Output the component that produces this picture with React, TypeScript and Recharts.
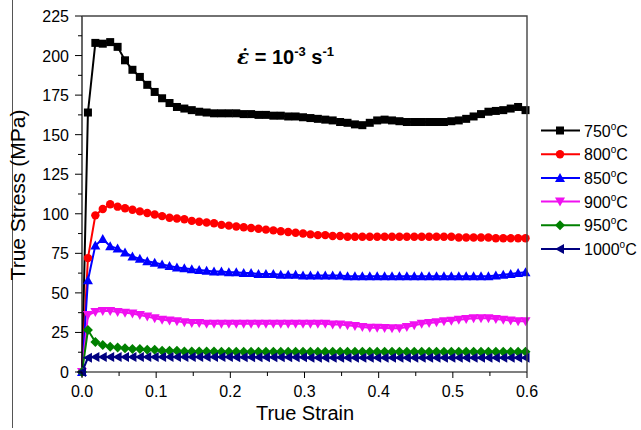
import { LineChart, Line, XAxis, YAxis } from 'recharts';

// true strain (x) for every recorded point
const strain = [
  0, 0.008, 0.018, 0.028, 0.038, 0.048, 0.058, 0.068, 0.078, 0.088, 0.098,
  0.108, 0.118, 0.128, 0.138, 0.148, 0.158, 0.168, 0.178, 0.188, 0.198,
  0.208, 0.218, 0.228, 0.238, 0.248, 0.258, 0.268, 0.278, 0.288, 0.298,
  0.308, 0.318, 0.328, 0.338, 0.348, 0.358, 0.368, 0.378, 0.388, 0.398,
  0.408, 0.418, 0.428, 0.438, 0.448, 0.458, 0.468, 0.478, 0.488, 0.498,
  0.508, 0.518, 0.528, 0.538, 0.548, 0.558, 0.568, 0.578, 0.588, 0.598,
];

// true stress (MPa) per temperature
const stress750 = [
  0, 164, 208, 207.5, 208.5, 205.5, 197, 191, 186.5, 181.5, 177,
  173, 170, 167.5, 166.5, 165.5, 164.5, 164, 163.5, 163.5, 163.5,
  163.5, 163, 163, 162.5, 162.5, 162, 162, 161.5, 161.5, 161,
  160.5, 160, 159.5, 159, 158, 157.5, 156.5, 156, 157.5, 159,
  159.5, 159, 158.5, 158, 158, 158, 158, 158, 158, 158.5,
  159, 160, 161.5, 163, 164.5, 165, 165.5, 166.5, 167.5, 165.5,
];

const stress800 = [
  0, 72, 99, 103, 106, 104.5, 103.5, 102.5, 101.5, 100.5, 99.5,
  98.5, 97.5, 97, 96.5, 95.5, 95, 94.5, 94, 93, 92.5,
  92, 91.5, 91, 90.5, 90, 89.5, 89, 88.5, 88, 87.5,
  87, 86.5, 86.5, 86, 86, 85.5, 85.5, 85.5, 85.5, 85.5,
  85.5, 85.5, 85.5, 85.5, 85.5, 85.5, 85.5, 85.5, 85.5, 85.5,
  85, 85, 85, 85, 85, 84.5, 84.5, 84.5, 84.5, 84.5,
];

const stress850 = [
  0, 58, 80, 84, 79.5, 78, 75.5, 73, 71.5, 70, 69,
  68, 67, 66, 65.5, 65, 64.5, 64, 63.5, 63.5, 63,
  63, 62.5, 62.5, 62, 62, 62, 61.5, 61.5, 61.5, 61,
  61, 61, 61, 61, 61, 60.5, 60.5, 60.5, 60.5, 60.5,
  60.5, 60.5, 60.5, 60.5, 60.5, 60.5, 60.5, 60.5, 60.5, 60.5,
  60.5, 60.5, 60.5, 60.5, 60.5, 61, 61.5, 62, 62.5, 63,
];

const stress900 = [
  0, 36, 38, 38.5, 38.5, 38, 37.5, 37, 36, 35, 34,
  33, 32.5, 32, 31.5, 31, 31, 30.5, 30.5, 30.5, 30.5,
  30.5, 30.5, 30.5, 30.5, 30.5, 30.5, 30.5, 30.5, 30.5, 30.5,
  30.5, 30.5, 30.5, 30, 30, 29.5, 29, 28.5, 28, 28,
  27.8, 27.6, 27.6, 28.5, 29.5, 30.5, 31, 31.5, 32, 32.4,
  33, 33.5, 34, 34, 34, 33.5, 33, 32.5, 32, 32,
];

const stress950 = [
  0, 26.5, 19, 17, 16, 15.5, 15, 14.5, 14.5, 14, 14,
  13.5, 13.5, 13.5, 13, 13, 13, 13, 13, 12.8, 12.8,
  12.8, 12.8, 12.8, 12.8, 12.8, 12.8, 12.8, 12.8, 12.8, 12.8,
  12.8, 12.8, 12.8, 12.8, 12.8, 12.8, 12.8, 12.8, 12.8, 12.8,
  12.8, 12.8, 12.8, 12.8, 12.8, 12.8, 12.8, 12.8, 12.8, 12.8,
  12.8, 12.8, 12.8, 12.8, 12.8, 12.8, 12.8, 12.8, 12.8, 12.8,
];

const stress1000 = [
  0, 9, 9.5, 9.5, 9.5, 9.5, 9.5, 9.5, 9.5, 9.5, 9.5,
  9.5, 9.5, 9.5, 9.5, 9.5, 9.5, 9.5, 9.5, 9.5, 9.5,
  9.3, 9.3, 9.3, 9.3, 9.3, 9.3, 9.3, 9.3, 9.3, 9.3,
  9, 9, 9, 9, 9, 9, 9, 9, 9, 9,
  9, 9, 9, 9, 9, 9, 9, 9, 9, 9,
  9, 9, 9, 9, 9, 9, 9, 9, 9, 9,
];

const xTicks = [0, 0.05, 0.1, 0.15, 0.2, 0.25, 0.3, 0.35, 0.4, 0.45, 0.5, 0.55, 0.6];
const yTicks = [0, 12.5, 25, 37.5, 50, 62.5, 75, 87.5, 100, 112.5, 125, 137.5, 150, 162.5, 175, 187.5, 200, 212.5, 225];

type Shape = 'square' | 'circle' | 'up' | 'down' | 'diamond' | 'left';

const series: { key: string; label: string; color: string; shape: Shape; values: number[] }[] = [
  { key: 't750', label: '750', color: '#000000', shape: 'square', values: stress750 },
  { key: 't800', label: '800', color: '#ff0000', shape: 'circle', values: stress800 },
  { key: 't850', label: '850', color: '#0000ff', shape: 'up', values: stress850 },
  { key: 't900', label: '900', color: '#f010f0', shape: 'down', values: stress900 },
  { key: 't950', label: '950', color: '#008000', shape: 'diamond', values: stress950 },
  { key: 't1000', label: '1000', color: '#000080', shape: 'left', values: stress1000 },
];

const data = strain.map((s, i) => {
  const row: Record<string, number> = { strain: s };
  series.forEach((sr) => {
    row[sr.key] = sr.values[i];
  });
  return row;
});

const FONT = '"Liberation Sans", Arial, sans-serif';

// plot box (same numbers as the chart margins / axis sizes)
const PLOT = { left: 82, top: 16, right: 527, bottom: 372 };

const Marker = ({ shape, color, cx, cy }: { shape: Shape; color: string; cx: number; cy: number }) => {
  switch (shape) {
    case 'square':
      return <rect x={cx - 4} y={cy - 4} width={8} height={8} fill={color} />;
    case 'circle':
      return <circle cx={cx} cy={cy} r={4.2} fill={color} />;
    case 'up':
      return <polygon points={`${cx},${cy - 5} ${cx + 5},${cy + 4} ${cx - 5},${cy + 4}`} fill={color} />;
    case 'down':
      return <polygon points={`${cx},${cy + 5} ${cx + 5},${cy - 4} ${cx - 5},${cy - 4}`} fill={color} />;
    case 'diamond':
      return <polygon points={`${cx},${cy - 5} ${cx + 5},${cy} ${cx},${cy + 5} ${cx - 5},${cy}`} fill={color} />;
    default:
      return <polygon points={`${cx - 5},${cy} ${cx + 4},${cy - 5} ${cx + 4},${cy + 5}`} fill={color} />;
  }
};

const makeDot = (shape: Shape, color: string) => (props: any) => {
  const { cx, cy, index } = props;
  if (cx == null || cy == null) return <g key={`${shape}-${index}`} />;
  return <Marker key={`${shape}-${index}`} shape={shape} color={color} cx={cx} cy={cy} />;
};

const XTick = (props: any) => {
  const { x, y, payload } = props;
  const v = payload.value as number;
  const major = Math.abs(v * 10 - Math.round(v * 10)) < 1e-6;
  return (
    <g>
      <line x1={x} y1={y} x2={x} y2={y + (major ? 6 : 4)} stroke="#000" />
      {major && (
        <text x={x} y={y + 25} textAnchor="middle" fontSize={16} fontFamily={FONT} fill="#000">
          {v.toFixed(1)}
        </text>
      )}
    </g>
  );
};

const YTick = (props: any) => {
  const { x, y, payload } = props;
  const v = payload.value as number;
  const major = v % 25 === 0;
  return (
    <g>
      <line x1={x} y1={y} x2={x - (major ? 7 : 4)} y2={y} stroke="#000" />
      {major && (
        <text x={x - 13} y={y + 6} textAnchor="end" fontSize={16} fontFamily={FONT} fill="#000">
          {v}
        </text>
      )}
    </g>
  );
};

const App = () => {
  return (
    <div style={{ position: 'absolute', left: 0, top: 0, width: 641, height: 430, background: '#fff' }}>
      <div style={{ position: 'absolute', left: 12, top: 0, width: 1, height: 428, background: '#555' }} />

      <div style={{ position: 'absolute', left: 0, top: 0 }}>
        <LineChart
          width={641}
          height={430}
          data={data}
          margin={{ top: PLOT.top, right: 641 - PLOT.right, left: 0, bottom: 0 }}
        >
          <XAxis
            dataKey="strain"
            type="number"
            domain={[0, 0.6]}
            ticks={xTicks}
            interval={0}
            height={430 - PLOT.bottom}
            tickSize={0}
            tickMargin={0}
            tick={<XTick />}
            tickLine={false}
            axisLine={{ stroke: '#000', strokeWidth: 1.2 }}
          />
          <YAxis
            type="number"
            domain={[0, 225]}
            ticks={yTicks}
            interval={0}
            width={PLOT.left}
            tickSize={0}
            tickMargin={0}
            tick={<YTick />}
            tickLine={false}
            axisLine={{ stroke: '#000', strokeWidth: 1.2 }}
          />
          {series.map((s) => (
            <Line
              key={s.key}
              type="linear"
              dataKey={s.key}
              stroke={s.color}
              strokeWidth={2}
              dot={makeDot(s.shape, s.color)}
              activeDot={false}
              isAnimationActive={false}
            />
          ))}
        </LineChart>
      </div>

      <svg
        width={641}
        height={430}
        style={{ position: 'absolute', left: 0, top: 0, pointerEvents: 'none' }}
      >
        {/* top and right sides of the plot frame */}
        <path
          d={`M${PLOT.left} ${PLOT.top} H${PLOT.right} V${PLOT.bottom}`}
          fill="none"
          stroke="#444"
          strokeWidth={1.4}
        />

        {/* strain rate note */}
        <text x={237} y={64} fontFamily={FONT} fontWeight="bold" fontSize={20} fill="#000">
          <tspan fontFamily='"DejaVu Serif", serif' fontStyle="italic">ε̇</tspan>
          <tspan> = 10</tspan>
          <tspan dy={-8} fontSize={13}>-3</tspan>
          <tspan dy={8}> s</tspan>
          <tspan dy={-8} fontSize={13}>-1</tspan>
        </text>

        <text x={305} y={420} textAnchor="middle" fontFamily={FONT} fontSize={20} fill="#000">
          True Strain
        </text>
        <text
          x={25}
          y={195}
          textAnchor="middle"
          fontFamily={FONT}
          fontSize={21}
          fill="#000"
          transform="rotate(-90 25 195)"
        >
          True Stress (MPa)
        </text>

        {/* legend */}
        {series.map((s, i) => {
          const cy = 130.5 + i * 23.7;
          return (
            <g key={s.key}>
              <line x1={541} y1={cy} x2={580} y2={cy} stroke={s.color} strokeWidth={2} />
              <Marker shape={s.shape} color={s.color} cx={560} cy={cy} />
              <text x={584} y={cy + 6} fontFamily={FONT} fontSize={16} fill="#000">
                {s.label}
                <tspan dy={-7} fontSize={10}>o</tspan>
                <tspan dy={7}>C</tspan>
              </text>
            </g>
          );
        })}
      </svg>
    </div>
  );
};

export default App;
